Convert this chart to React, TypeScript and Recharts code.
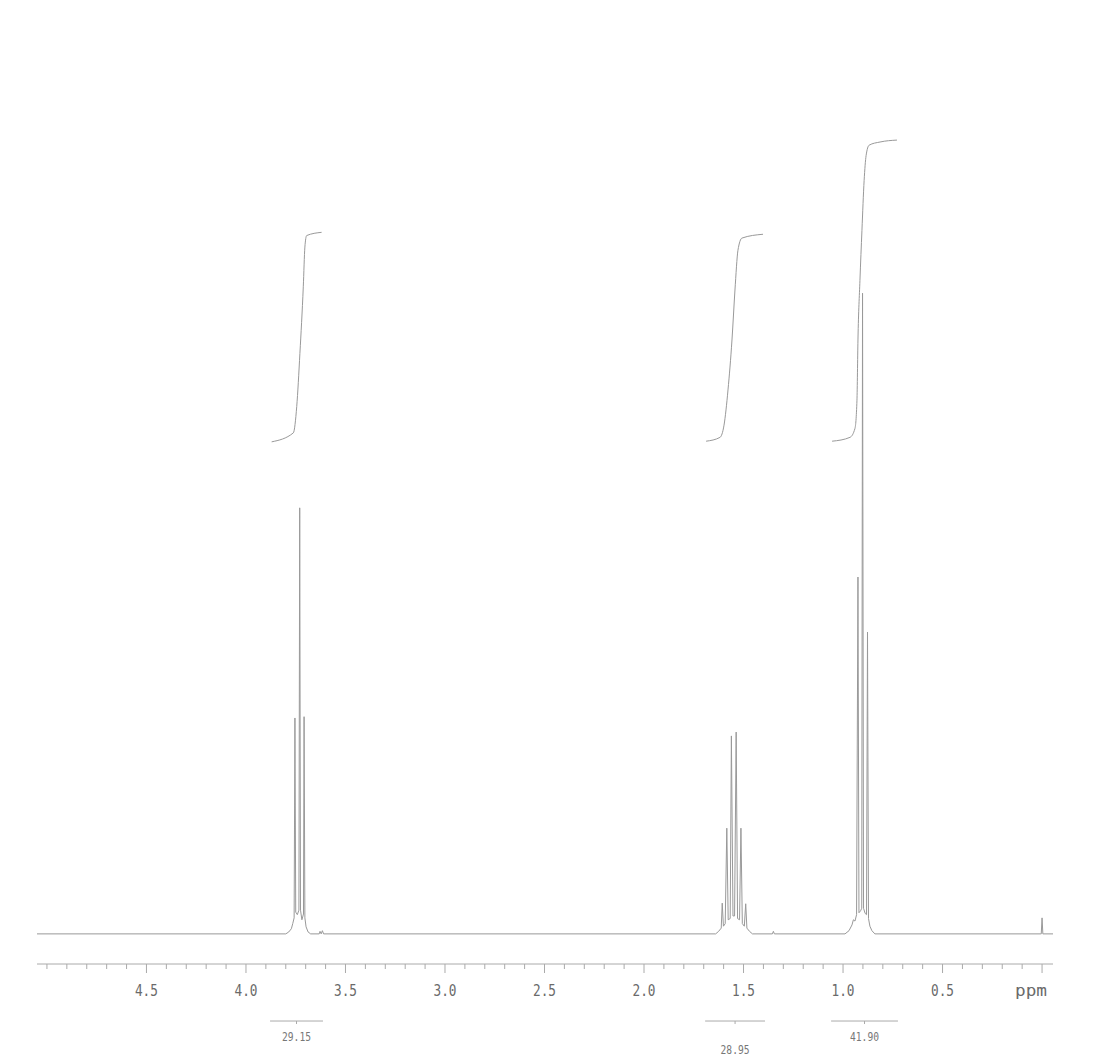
import { LineChart, Line, XAxis, YAxis, ReferenceLine, ReferenceDot } from "recharts"

// 1H spectrum trace (ppm, intensity in % of the tallest line)
const specPpm = [
  5.05, 3.8, 3.785, 3.772, 3.765, 3.758, 3.754, 3.75, 3.742, 3.734, 3.73, 3.726, 3.719, 3.711, 3.708, 3.704, 3.698, 3.688, 3.675,
  3.632, 3.628, 3.622, 3.616, 3.61,
  1.64, 1.625, 1.612, 1.607, 1.601, 1.592, 1.584, 1.577, 1.567, 1.561, 1.553, 1.545, 1.537, 1.53, 1.52, 1.513, 1.506, 1.496, 1.489, 1.483, 1.47, 1.455,
  1.355, 1.35, 1.345,
  0.99, 0.97, 0.955, 0.948, 0.94, 0.932, 0.925, 0.92, 0.912, 0.906, 0.902, 0.897, 0.889, 0.882, 0.877, 0.872, 0.865, 0.855, 0.84,
  0.01, 0.004, 0.0, -0.004, -0.055,
]
const specInt = [
  0, 0, 0.3, 0.8, 1.6, 2.5, 33.7, 3.4, 3.0, 3.7, 66.5, 3.7, 2.2, 3.1, 33.9, 2.5, 1.1, 0.3, 0,
  0, 0.4, 0, 0.5, 0,
  0, 0.4, 0.9, 4.8, 1.2, 1.6, 16.5, 2.2, 2.4, 30.9, 2.8, 2.8, 31.5, 2.4, 2.2, 16.5, 1.6, 1.2, 4.7, 0.9, 0.4, 0,
  0, 0.4, 0,
  0, 0.5, 1.4, 2.2, 2.0, 3.0, 55.7, 3.3, 3.6, 4.0, 100, 4.0, 3.2, 3.0, 47.1, 2.4, 1.2, 0.5, 0,
  0, 0, 2.5, 0, 0,
]

// integral curves
const intAPpm = [3.871, 3.762, 3.745, 3.729, 3.712, 3.704, 3.695, 3.62]
const intAVal = [76.8, 78.2, 82.3, 90.6, 101.0, 107.2, 109.0, 109.5]
const intBPpm = [1.688, 1.618, 1.598, 1.578, 1.558, 1.543, 1.528, 1.508, 1.402]
const intBVal = [76.9, 77.5, 79.4, 84.9, 92.7, 100.5, 106.7, 108.6, 109.2]
const intCPpm = [1.055, 0.965, 0.94, 0.93, 0.925, 0.915, 0.905, 0.894, 0.884, 0.869, 0.814, 0.729]
const intCVal = [76.9, 77.5, 78.9, 83.3, 92.7, 102.0, 109.8, 117.6, 121.5, 123.1, 123.6, 123.9]

// integral regions shown under the axis
const regionFrom = [3.879, 1.693, 1.06]
const regionTo = [3.613, 1.392, 0.724]
const regionLabels = ["29.15", "28.95", "41.90"]

const majorTicks = [4.5, 4.0, 3.5, 3.0, 2.5, 2.0, 1.5, 1.0, 0.5, 0.0]
const majorLabels = ["4.5", "4.0", "3.5", "3.0", "2.5", "2.0", "1.5", "1.0", "0.5", "ppm"]
const allTicks = Array.from({ length: 51 }, (_, i) => i / 10)

const zip = (p: number[], v: number[]) => p.map((ppm, i) => ({ ppm, v: v[i] }))
const spectrum = zip(specPpm, specInt)
const integrals = [zip(intAPpm, intAVal), zip(intBPpm, intBVal), zip(intCPpm, intCVal)]

const BRACKET_Y = -13.6
const GREY = "#999"
const FONT = "'DejaVu Sans Mono', 'Liberation Mono', monospace"

function PpmTick({ x, y, payload }: any) {
  const idx = majorTicks.findIndex((t) => Math.abs(t - payload.value) < 1e-6)
  const major = idx >= 0
  const isUnit = majorLabels[idx] === "ppm"
  return (
    <g>
      <line x1={x} x2={x} y1={y} y2={y + (major ? 9 : 5)} stroke="#aaa" strokeWidth={1} />
      {major && (
        <text
          x={isUnit ? x - 11 : x} y={y + 32} textAnchor="middle"
          fontFamily={FONT} fontSize={16} fill="#6a6a6a"
          textLength={isUnit ? 32 : 23} lengthAdjust="spacingAndGlyphs"
        >
          {majorLabels[idx]}
        </text>
      )}
    </g>
  )
}

function RegionLabel({ cx, cy, text, drop }: any) {
  return (
    <g>
      <line x1={cx} x2={cx} y1={cy} y2={cy + 3} stroke="#aaa" strokeWidth={1} />
      <text
        x={cx} y={cy + drop} textAnchor="middle" fontFamily={FONT} fontSize={12}
        fill="#777" textLength={29} lengthAdjust="spacingAndGlyphs"
      >
        {text}
      </text>
    </g>
  )
}

export default function App() {
  return (
    <div style={{ position: "absolute", left: 0, top: 0, width: 1099, height: 1059, background: "#fff" }}>
      <LineChart width={1099} height={1059} margin={{ top: 101, right: 46, bottom: 35, left: 37 }}>
        <XAxis
          type="number" dataKey="ppm" domain={[-0.055, 5.05]} reversed
          ticks={allTicks} interval={0} height={60}
          tickSize={0} tickMargin={0} tickLine={false}
          axisLine={{ stroke: "#aaa", strokeWidth: 1 }}
          tick={<PpmTick />}
        />
        <YAxis hide type="number" domain={[-4.7, 130]} />
        <Line
          data={spectrum} dataKey="v" type="linear" stroke={GREY} strokeWidth={1}
          dot={false} isAnimationActive={false}
        />
        {integrals.map((d, i) => (
          <Line
            key={i} data={d} dataKey="v" type="monotone" stroke={GREY} strokeWidth={1}
            dot={false} isAnimationActive={false}
          />
        ))}
        {regionLabels.map((lab, i) => (
          <ReferenceLine
            key={"b" + i} ifOverflow="visible" stroke="#aaa" strokeWidth={1}
            segment={[{ x: regionFrom[i], y: BRACKET_Y }, { x: regionTo[i], y: BRACKET_Y }]}
          />
        ))}
        {regionLabels.map((lab, i) => (
          <ReferenceDot
            key={"l" + i} ifOverflow="visible"
            x={(regionFrom[i] + regionTo[i]) / 2} y={BRACKET_Y} r={1}
            shape={(p: any) => <RegionLabel {...p} text={lab} drop={i === 1 ? 33 : 20} />}
          />
        ))}
      </LineChart>
    </div>
  )
}
